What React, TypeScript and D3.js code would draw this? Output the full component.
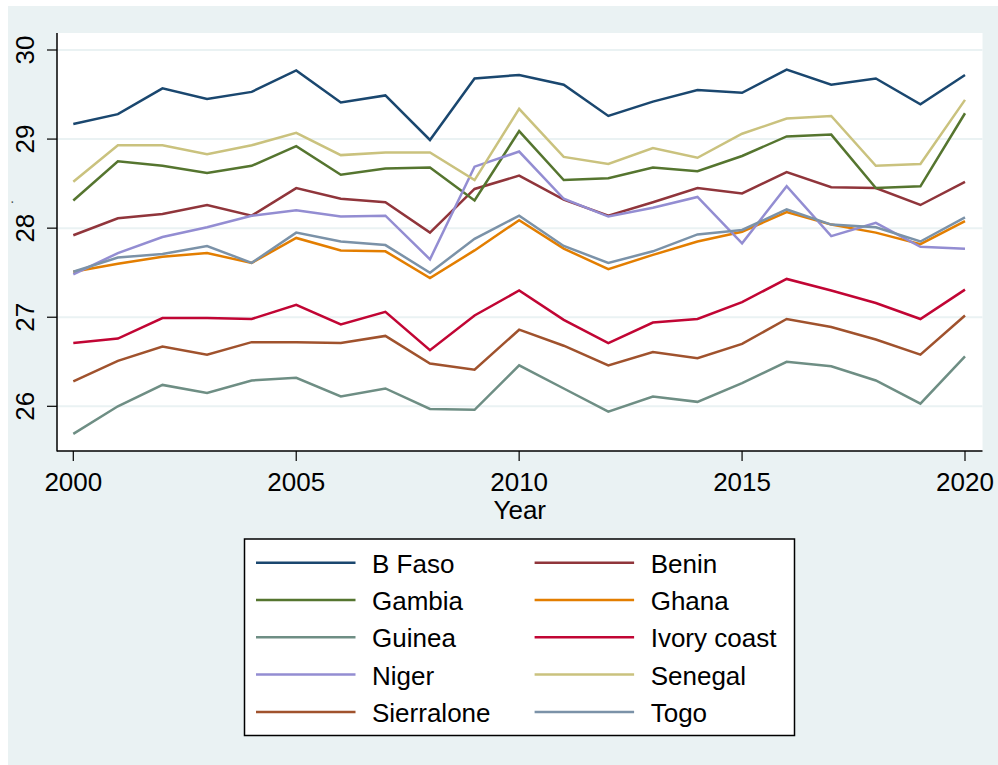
import React from "react";
import * as d3 from "d3";

const years = d3.range(2000, 2021);
const countries = ["B Faso", "Benin", "Gambia", "Ghana", "Guinea", "Ivory coast", "Niger", "Senegal", "Sierralone", "Togo"];
const colors = ["#1a476f", "#90353b", "#55752f", "#e37e00", "#6e8e84", "#c10534", "#938dd2", "#cac27e", "#a0522d", "#7b92a8"];

const bFaso = [29.17, 29.28, 29.57, 29.45, 29.53, 29.77, 29.41, 29.49, 28.99, 29.68, 29.72, 29.61, 29.26, 29.42, 29.55, 29.52, 29.78, 29.61, 29.68, 29.39, 29.72];
const benin = [27.92, 28.11, 28.16, 28.26, 28.14, 28.45, 28.33, 28.29, 27.95, 28.44, 28.59, 28.32, 28.14, 28.29, 28.45, 28.39, 28.63, 28.46, 28.45, 28.26, 28.52];
const gambia = [28.31, 28.75, 28.70, 28.62, 28.70, 28.92, 28.60, 28.67, 28.68, 28.31, 29.09, 28.54, 28.56, 28.68, 28.64, 28.81, 29.03, 29.05, 28.45, 28.47, 29.29];
const ghana = [27.51, 27.60, 27.68, 27.72, 27.61, 27.89, 27.75, 27.74, 27.44, 27.75, 28.09, 27.77, 27.54, 27.70, 27.85, 27.96, 28.18, 28.04, 27.95, 27.82, 28.08];
const guinea = [25.69, 26.00, 26.24, 26.15, 26.29, 26.32, 26.11, 26.20, 25.97, 25.96, 26.46, 26.20, 25.94, 26.11, 26.05, 26.26, 26.50, 26.45, 26.29, 26.03, 26.56];
const ivoryCoast = [26.71, 26.76, 26.99, 26.99, 26.98, 27.14, 26.92, 27.06, 26.63, 27.02, 27.30, 26.97, 26.71, 26.94, 26.98, 27.17, 27.43, 27.30, 27.16, 26.98, 27.31];
const niger = [27.48, 27.72, 27.90, 28.01, 28.14, 28.20, 28.13, 28.14, 27.65, 28.69, 28.86, 28.33, 28.13, 28.23, 28.35, 27.83, 28.47, 27.91, 28.06, 27.79, 27.77];
const senegal = [28.52, 28.93, 28.93, 28.83, 28.93, 29.07, 28.82, 28.85, 28.85, 28.54, 29.34, 28.80, 28.72, 28.90, 28.79, 29.06, 29.23, 29.26, 28.70, 28.72, 29.44];
const sierralone = [26.28, 26.51, 26.67, 26.58, 26.72, 26.72, 26.71, 26.79, 26.48, 26.41, 26.86, 26.68, 26.46, 26.61, 26.54, 26.70, 26.98, 26.89, 26.75, 26.58, 27.02];
const togo = [27.51, 27.67, 27.71, 27.80, 27.61, 27.95, 27.85, 27.81, 27.50, 27.88, 28.14, 27.80, 27.61, 27.74, 27.93, 27.98, 28.21, 28.04, 28.01, 27.85, 28.12];

const seriesValues = [bFaso, benin, gambia, ghana, guinea, ivoryCoast, niger, senegal, sierralone, togo];
const yTicks = [26, 27, 28, 29, 30];
const xTicks = [2000, 2005, 2010, 2015, 2020];

const FONT = "'Liberation Sans', Arial, Helvetica, sans-serif";

export default function App() {
  const W = 998, H = 765;
  const plotL = 57, plotR = 982.5, plotT = 33, plotB = 451;
  const x = d3.scaleLinear().domain([2000, 2020]).range([73.3, 965]);
  const y = d3.scaleLinear().domain([26, 30]).range([406.3, 50]);
  const line = d3.line<number>().x((_, i) => x(years[i])).y((v) => y(v));

  const legRowY = (r: number) => 562.7 + r * 37.3;
  const legColLine = [256, 534.6];
  const legColText = [372, 650.7];
  const FS = 26;

  return (
    <svg width={W} height={H} style={{ position: "absolute", left: 0, top: 0, display: "block" }} fontFamily={FONT}>
      <rect x={0} y={0} width={W} height={H} fill="#ffffff" />
      <rect x={8} y={6} width={W - 8} height={H - 6} fill="#eaf2f3" />
      <rect x={plotL} y={plotT} width={plotR - plotL} height={plotB - plotT} fill="#ffffff" />
      {yTicks.map((t) => (
        <line key={"g" + t} x1={plotL} x2={plotR} y1={y(t)} y2={y(t)} stroke="#eaf2f3" strokeWidth={2} />
      ))}
      {seriesValues.map((vals, i) => (
        <path key={countries[i]} d={line(vals) || ""} fill="none" stroke={colors[i]} strokeWidth={2.5} strokeLinejoin="miter" />
      ))}
      <line x1={plotL} x2={plotL} y1={plotT} y2={plotB + 0.5} stroke="#000" strokeWidth={1.5} />
      <line x1={plotL} x2={plotR} y1={plotB} y2={plotB} stroke="#000" strokeWidth={1.5} />
      {yTicks.map((t) => (
        <g key={"yt" + t}>
          <line x1={plotL - 10} x2={plotL} y1={y(t)} y2={y(t)} stroke="#000" strokeWidth={1.2} />
          <text transform={`translate(34,${y(t)}) rotate(-90)`} textAnchor="middle" fontSize={FS} fill="#000">
            {t}
          </text>
        </g>
      ))}
      <text transform="translate(12.5,202) rotate(-90)" textAnchor="middle" fontSize={12} fill="#000">.</text>
      {xTicks.map((t) => (
        <g key={"xt" + t}>
          <line x1={x(t)} x2={x(t)} y1={plotB} y2={plotB + 10} stroke="#000" strokeWidth={1.2} />
          <text x={x(t)} y={491} textAnchor="middle" fontSize={FS} fill="#000">
            {t}
          </text>
        </g>
      ))}
      <text x={(plotL + plotR) / 2} y={519} textAnchor="middle" fontSize={FS} fill="#000">Year</text>
      <rect x={244.5} y={539} width={550} height={196.5} fill="#ffffff" stroke="#000" strokeWidth={1.5} />
      {countries.map((c, i) => {
        const col = i % 2;
        const row = Math.floor(i / 2);
        const ly = legRowY(row);
        return (
          <g key={"leg" + c}>
            <line x1={legColLine[col]} x2={legColLine[col] + 99.5} y1={ly} y2={ly} stroke={colors[i]} strokeWidth={2.5} />
            <text x={legColText[col]} y={ly + 10} fontSize={FS} fill="#000">
              {c}
            </text>
          </g>
        );
      })}
    </svg>
  );
}
